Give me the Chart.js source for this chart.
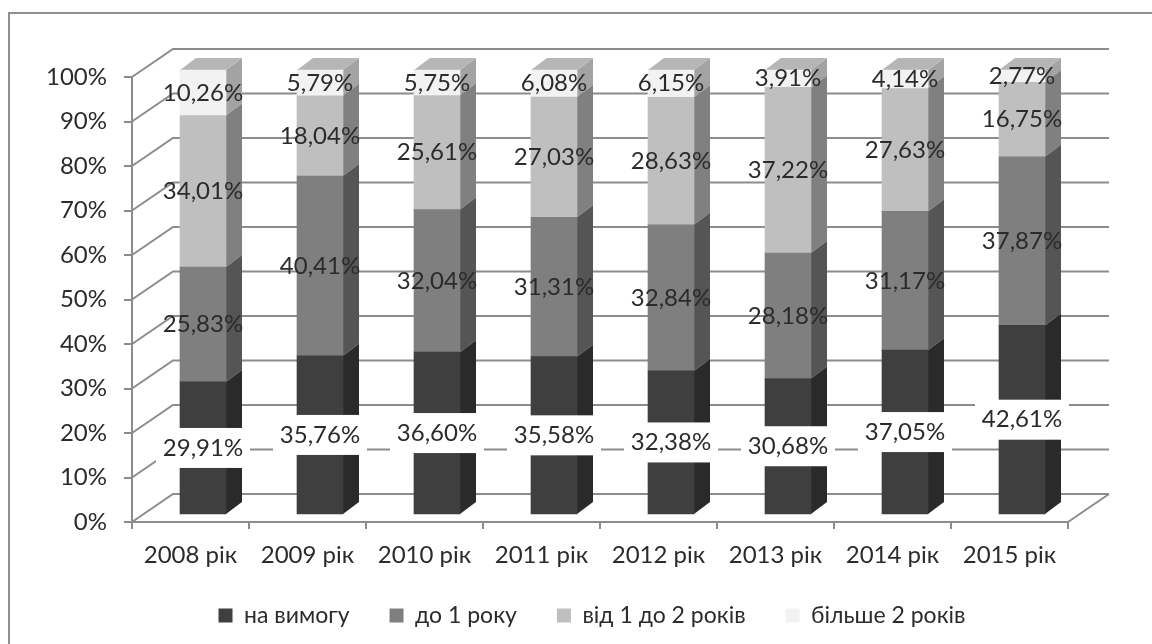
<!DOCTYPE html>
<html lang="uk">
<head>
<meta charset="utf-8">
<title>Структура депозитів</title>
<script src="https://cdn.jsdelivr.net/npm/chart.js@4/dist/chart.umd.min.js"></script>
<style>
  html, body { margin: 0; background: #fff; }
  canvas { display: block; }
</style>
</head>
<body>
<canvas id="chart" width="1152" height="644"></canvas>
<script>
// ─── Дані ───
const years = ['2008 рік', '2009 рік', '2010 рік', '2011 рік', '2012 рік', '2013 рік', '2014 рік', '2015 рік'];
const seriesNames = ['на вимогу', 'до 1 року', 'від 1 до 2 років', 'більше 2 років'];
const onDemand = [29.91, 35.76, 36.60, 35.58, 32.38, 30.68, 37.05, 42.61];
const upTo1 = [25.83, 40.41, 32.04, 31.31, 32.84, 28.18, 31.17, 37.87];
const from1to2 = [34.01, 18.04, 25.61, 27.03, 28.63, 37.22, 27.63, 16.75];
const over2 = [10.26, 5.79, 5.75, 6.08, 6.15, 3.91, 4.14, 2.77];

// ─── Кольори граней ───
const frontColors = ['#3f3f3f', '#7f7f7f', '#bfbfbf', '#f2f2f2'];
const sideColors = ['#2a2a2a', '#555555', '#808080', '#a3a3a3'];
const topColor = '#b6b6b6';
const lineColor = '#8c8c8c';
const textColor = '#2b2b2b';
const fontFamily = "Lato, 'Open Sans', sans-serif";

// Глибина "кімнати" і стовпчиків, псевдо-3D
const wall = { dx: 41, dy: -28 };
const barShift = { dx: 12.5, dy: -7 };
const barDepth = { dx: 16, dy: -12 };
// Легенда стоїть правіше за центр області графіка
const legendShift = { dx: 53, dy: -7 };

function fillPoly(ctx, color, pts) {
  ctx.fillStyle = color;
  ctx.beginPath();
  pts.forEach((p, i) => i ? ctx.lineTo(p[0], p[1]) : ctx.moveTo(p[0], p[1]));
  ctx.closePath();
  ctx.fill();
}

const fake3d = {
  id: 'fake3d',
  afterLayout(chart) {
    const lg = chart.legend;
    lg.left += legendShift.dx;
    lg.right += legendShift.dx;
    lg.top += legendShift.dy;
    lg.bottom += legendShift.dy;
  },
  beforeDraw(chart) {
    // рамка діаграми: лише зверху і зліва
    const ctx = chart.ctx;
    ctx.save();
    ctx.strokeStyle = '#8f8f8f';
    ctx.lineWidth = 2;
    ctx.beginPath();
    ctx.moveTo(9, 644);
    ctx.lineTo(9, 13);
    ctx.lineTo(1152, 13);
    ctx.stroke();
    ctx.restore();
  },
  beforeDatasetsDraw(chart) {
    const ctx = chart.ctx;
    const { left, right, bottom } = chart.chartArea;
    const y = chart.scales.y;
    ctx.save();
    ctx.strokeStyle = lineColor;
    ctx.lineWidth = 2;
    y.ticks.forEach(t => {
      const py = y.getPixelForValue(t.value);
      ctx.beginPath();
      ctx.moveTo(left, py);
      ctx.lineTo(left + wall.dx, py + wall.dy);
      ctx.lineTo(right + wall.dx, py + wall.dy);
      ctx.stroke();
    });
    ctx.beginPath();
    ctx.moveTo(right, bottom);
    ctx.lineTo(right + wall.dx, bottom + wall.dy);
    ctx.stroke();
    ctx.restore();
  },
  beforeDatasetDraw(chart, args) {
    const ctx = chart.ctx;
    const i = args.index;
    ctx.save();
    ctx.translate(barShift.dx, barShift.dy);
    // бічні та верхні грані беруть координати з елементів стовпчиків
    args.meta.data.forEach(bar => {
      const r = bar.x + bar.width / 2;
      const l = bar.x - bar.width / 2;
      fillPoly(ctx, sideColors[i], [
        [r, bar.y], [r + barDepth.dx, bar.y + barDepth.dy],
        [r + barDepth.dx, bar.base + barDepth.dy], [r, bar.base]
      ]);
      if (i === seriesNames.length - 1) {
        fillPoly(ctx, topColor, [
          [l, bar.y], [l + barDepth.dx, bar.y + barDepth.dy],
          [r + barDepth.dx, bar.y + barDepth.dy], [r, bar.y]
        ]);
      }
    });
  },
  afterDatasetDraw(chart) {
    chart.ctx.restore();
  },
  afterDatasetsDraw(chart) {
    const ctx = chart.ctx;
    ctx.save();
    ctx.font = `24px ${fontFamily}`;
    ctx.textAlign = 'center';
    ctx.textBaseline = 'middle';
    chart.data.datasets.forEach((ds, i) => {
      chart.getDatasetMeta(i).data.forEach((bar, j) => {
        const cx = bar.x + barShift.dx;
        const cy = (bar.y + bar.base) / 2 + barShift.dy;
        if (i === 0) {
          // підписи нижньої серії йдуть на білій підкладці
          ctx.fillStyle = '#fff';
          ctx.fillRect(cx - 47, cy - 20, 94, 40);
        }
        ctx.fillStyle = textColor;
        ctx.fillText(ds.data[j].toFixed(2).replace('.', ',') + '%', cx, cy);
      });
    });
    ctx.restore();
  }
};

const seriesValues = [onDemand, upTo1, from1to2, over2];

new Chart(document.getElementById('chart'), {
  type: 'bar',
  data: {
    labels: years,
    datasets: seriesNames.map((name, i) => ({
      label: name,
      data: seriesValues[i],
      backgroundColor: frontColors[i],
      borderWidth: 0,
      barThickness: 46,
      clip: false
    }))
  },
  options: {
    responsive: false,
    animation: false,
    layout: { padding: { left: 10, right: 84, top: 77, bottom: 0 } },
    plugins: {
      tooltip: { enabled: false },
      legend: {
        position: 'bottom',
        labels: {
          boxWidth: 14,
          boxHeight: 14,
          padding: 40,
          color: textColor,
          font: { family: fontFamily, size: 23 }
        }
      }
    },
    scales: {
      x: {
        stacked: true,
        afterFit: s => { s.height = 49; },
        border: { color: lineColor, width: 2 },
        grid: { drawOnChartArea: false, color: lineColor, lineWidth: 2, tickLength: 7 },
        ticks: { color: textColor, padding: 12, maxRotation: 0, font: { family: fontFamily, size: 24 } }
      },
      y: {
        stacked: true,
        min: 0,
        max: 100,
        afterFit: s => { s.width = 122; },
        border: { color: lineColor, width: 2 },
        grid: { drawOnChartArea: false, color: lineColor, lineWidth: 2, tickLength: 8 },
        ticks: {
          stepSize: 10,
          color: textColor,
          padding: 17,
          font: { family: fontFamily, size: 24 },
          callback: v => v + '%'
        }
      }
    }
  },
  plugins: [fake3d]
});
</script>
</body>
</html>
